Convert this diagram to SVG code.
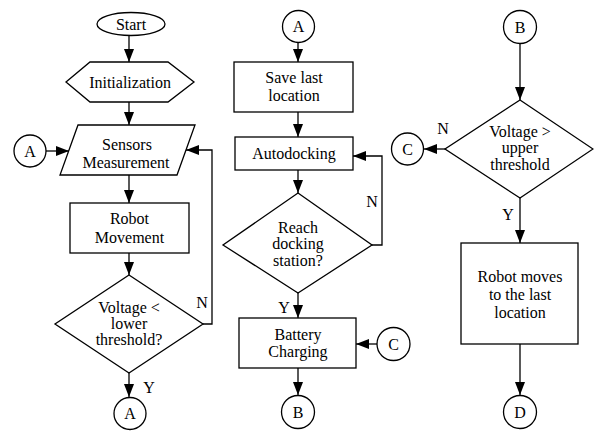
<svg xmlns="http://www.w3.org/2000/svg" width="594" height="432" viewBox="0 0 594 432">
<style>
.s{fill:#fff;stroke:#000;stroke-width:1.3}
.c{fill:none;stroke:#000;stroke-width:1.3;marker-end:url(#ah)}
text{font-family:'Liberation Serif','Times New Roman',Tinos,'DejaVu Serif',serif;font-size:16px;fill:#000;text-anchor:middle}
</style>
<defs>
<marker id="ah" markerUnits="userSpaceOnUse" markerWidth="13" markerHeight="10" refX="13" refY="5" orient="auto">
<path d="M0,0 L13,5 L0,10 z" fill="#000"/>
</marker>
</defs>
<rect width="594" height="432" fill="#fff"/>
<g id="connectors">
<path class="c" d="M129,35.5 V62"/>
<path class="c" d="M129,102 V125"/>
<path class="c" d="M46,151 H69"/>
<path class="c" d="M129,175 V203"/>
<path class="c" d="M129,253 V275"/>
<path class="c" d="M203,324 H212 V150 H186"/>
<path class="c" d="M129,373 V397"/>
<path class="c" d="M298,43 V62"/>
<path class="c" d="M298,112 V137"/>
<path class="c" d="M298,170 V193"/>
<path class="c" d="M372,245 H382 V156 H353"/>
<path class="c" d="M298,293 V318"/>
<path class="c" d="M377,344 H356"/>
<path class="c" d="M298,368 V395"/>
<path class="c" d="M520,43.5 V100"/>
<path class="c" d="M445,149 H424"/>
<path class="c" d="M520,198 V243"/>
<path class="c" d="M520,344 V395"/>
</g>
<g id="labels">
<text x="202" y="308">N</text>
<text x="149" y="393">Y</text>
<text x="372" y="207">N</text>
<text x="284" y="313">Y</text>
<text x="443" y="134">N</text>
<text x="508" y="220">Y</text>
</g>
<g id="start"><ellipse class="s" cx="131" cy="24" rx="34" ry="11.5"/><text x="131" y="29.5">Start</text></g>
<g id="init"><polygon class="s" points="66,82 90,62 168,62 194,82 168,102 90,102"/><text x="130" y="88">Initialization</text></g>
<g id="sensors"><polygon class="s" points="78,125 195,125 177,175 60,175"/><text x="127" y="150">Sensors</text><text x="126" y="168">Measurement</text></g>
<g id="connA1"><circle class="s" cx="30" cy="151" r="16"/><text x="30" y="156.5">A</text></g>
<g id="robotmove"><rect class="s" x="70" y="203" width="119" height="50"/><text x="129.5" y="224">Robot</text><text x="129.5" y="243">Movement</text></g>
<g id="lowercheck"><polygon class="s" points="129,275 203,324 129,373 55,324"/><text x="129" y="313">Voltage &lt;</text><text x="129" y="329">lower</text><text x="129" y="345">threshold?</text></g>
<g id="connA2"><circle class="s" cx="130" cy="413.5" r="16"/><text x="130" y="419">A</text></g>
<g id="connA3"><circle class="s" cx="298.5" cy="26.5" r="16"/><text x="298.5" y="32">A</text></g>
<g id="savelast"><rect class="s" x="234" y="62" width="119" height="50"/><text x="294" y="83">Save last</text><text x="294" y="101">location</text></g>
<g id="autodock"><rect class="s" x="235" y="137" width="118" height="33"/><text x="294" y="159">Autodocking</text></g>
<g id="reach"><polygon class="s" points="298,193 372,245 298,293 223,245"/><text x="298" y="233">Reach</text><text x="298" y="249">docking</text><text x="298" y="266">station?</text></g>
<g id="charging"><rect class="s" x="239" y="318" width="117" height="50"/><text x="298" y="340">Battery</text><text x="298" y="357">Charging</text></g>
<g id="connC1"><circle class="s" cx="393.5" cy="344" r="16.5"/><text x="393.5" y="349.5">C</text></g>
<g id="connB1"><circle class="s" cx="298" cy="412" r="16.5"/><text x="298" y="417.5">B</text></g>
<g id="connB2"><circle class="s" cx="520" cy="27" r="16.5"/><text x="520" y="32.5">B</text></g>
<g id="uppercheck"><polygon class="s" points="520,100 593,149 520,198 445,149"/><text x="520" y="137">Voltage &gt;</text><text x="520" y="153">upper</text><text x="520" y="170">threshold</text></g>
<g id="connC2"><circle class="s" cx="407.5" cy="149" r="16"/><text x="407.5" y="154.5">C</text></g>
<g id="moveback"><rect class="s" x="461" y="243" width="117" height="101"/><text x="520" y="282">Robot moves</text><text x="520" y="300">to the last</text><text x="520" y="318">location</text></g>
<g id="connD"><circle class="s" cx="520" cy="412" r="16.5"/><text x="520" y="417.5">D</text></g>
</svg>
